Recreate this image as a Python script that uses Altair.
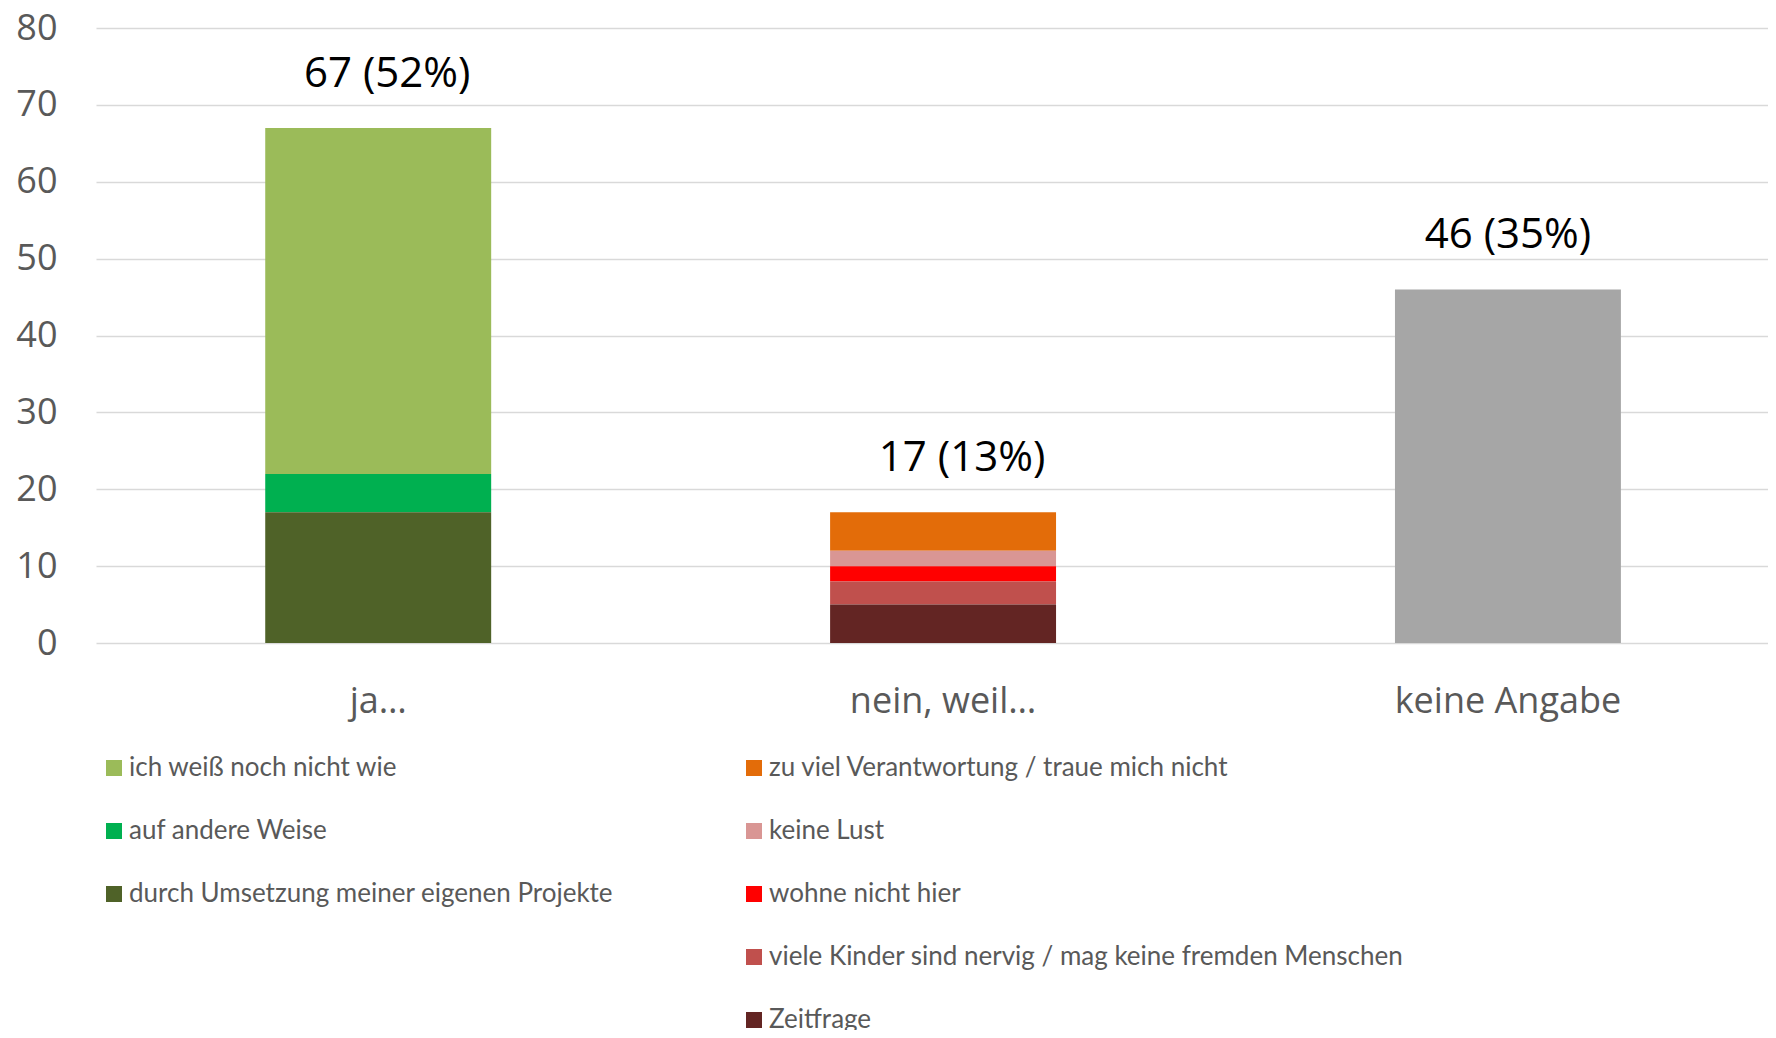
import altair as alt
import pandas as pd

categories = ["ja…", "nein, weil…", "keine Angabe"]

ja_reasons = ["ich weiß noch nicht wie", "auf andere Weise", "durch Umsetzung meiner eigenen Projekte"]
ja_values = [45, 5, 17]
ja_colors = ["#9BBB59", "#00B050", "#4F6228"]

nein_reasons = [
    "zu viel Verantwortung / traue mich nicht",
    "keine Lust",
    "wohne nicht hier",
    "viele Kinder sind nervig / mag keine fremden Menschen",
    "Zeitfrage",
]
nein_values = [5, 2, 2, 3, 5]
nein_colors = ["#E36C09", "#D99694", "#FF0000", "#C0504D", "#632523"]

keine_value = 46
keine_color = "#A6A6A6"

totals = [67, 17, 46]
total_labels = ["67 (52%)", "17 (13%)", "46 (35%)"]
y_ticks = [0, 10, 20, 30, 40, 50, 60, 70, 80]

AXIS_FONT = "Open Sans"
LEGEND_FONT = "Lato"
GRAY = "#595959"

ja_df = pd.DataFrame({
    "cat": [categories[0]] * len(ja_reasons),
    "reason": ja_reasons,
    "value": ja_values,
    "ord": list(range(len(ja_reasons), 0, -1)),
})
nein_df = pd.DataFrame({
    "cat": [categories[1]] * len(nein_reasons),
    "reason": nein_reasons,
    "value": nein_values,
    "ord": list(range(len(nein_reasons), 0, -1)),
})
keine_df = pd.DataFrame({"cat": [categories[2]], "value": [keine_value]})
label_df = pd.DataFrame({"cat": categories, "total": totals, "label": total_labels})

x_enc = alt.X(
    "cat:N",
    sort=categories,
    scale=alt.Scale(domain=categories, paddingInner=0.6, paddingOuter=0.28, align=0.535),
    axis=alt.Axis(
        title=None, labelAngle=0, domain=False, ticks=False, grid=False,
        labelFont=AXIS_FONT, labelFontSize=36, labelColor=GRAY, labelPadding=41,
        labelLimit=1000,
    ),
)
y_scale = alt.Scale(domain=[0, 80], nice=False)
y_axis = alt.Axis(
    title=None, values=y_ticks, grid=True, gridColor="#D9D9D9", gridWidth=1.5,
    domain=False, ticks=False, labelFont=AXIS_FONT, labelFontSize=36,
    labelColor=GRAY, labelPadding=39,
)


def legend(x, y):
    return alt.Legend(
        title=None, orient="none", legendX=x, legendY=y, direction="vertical",
        symbolType="square", symbolSize=256, symbolStrokeWidth=0,
        labelFont=LEGEND_FONT, labelFontSize=26, labelColor=GRAY,
        rowPadding=37, labelLimit=1000, padding=0, labelOffset=2,
    )


ja_layer = alt.Chart(ja_df).mark_bar().encode(
    x=x_enc,
    y=alt.Y("value:Q", scale=y_scale, axis=y_axis, stack="zero"),
    color=alt.Color("reason:N", scale=alt.Scale(domain=ja_reasons, range=ja_colors),
                    legend=legend(5, 727)),
    order=alt.Order("ord:Q"),
)

nein_layer = alt.Chart(nein_df).mark_bar().encode(
    x=x_enc,
    y=alt.Y("value:Q", scale=y_scale, axis=y_axis, stack="zero"),
    color=alt.Color("reason:N", scale=alt.Scale(domain=nein_reasons, range=nein_colors),
                    legend=legend(645, 727)),
    order=alt.Order("ord:Q"),
)

keine_layer = alt.Chart(keine_df).mark_bar(color=keine_color).encode(
    x=x_enc,
    y=alt.Y("value:Q", scale=y_scale, axis=y_axis),
)


def label_layer(cat, dx):
    return alt.Chart(label_df).transform_filter(
        alt.datum.cat == cat
    ).mark_text(
        font=AXIS_FONT, fontSize=42, color="black", baseline="middle", dy=-54, dx=dx
    ).encode(
        x=x_enc,
        y=alt.Y("total:Q", scale=y_scale, axis=y_axis),
        text="label:N",
    )


text_layers = [label_layer(categories[0], 9), label_layer(categories[1], 19), label_layer(categories[2], 0)]

chart = alt.layer(ja_layer, nein_layer, keine_layer, *text_layers).resolve_scale(
    color="independent"
).properties(
    width=1672,
    height=615,
    autosize=alt.AutoSizeParams(type="none"),
    padding={"left": 88, "top": 20, "right": 0, "bottom": 387},
    background="white",
).configure_view(strokeWidth=0)

chart.save("out.html", embed_options={"renderer": "svg", "actions": False})
